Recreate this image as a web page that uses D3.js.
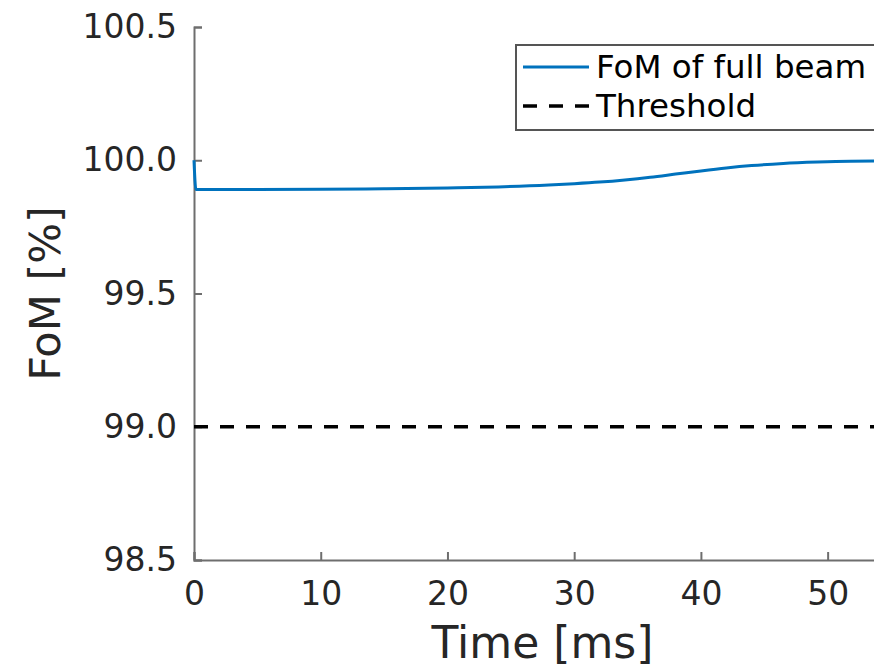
<!DOCTYPE html>
<html>
<head>
<meta charset="utf-8">
<script src="https://cdn.jsdelivr.net/npm/d3@7"></script>
<style>
  html, body { margin: 0; padding: 0; background: #fff; }
  svg { display: block; font-family: "DejaVu Sans", sans-serif; }
</style>
</head>
<body>
<svg id="chart" width="874" height="670"></svg>
<script>
// Figure of merit of the full beam over time (ms, %)
const timeMs = [0, 0.15, 2, 5, 10, 15, 20, 24, 28, 30, 32, 34, 36, 38, 40, 42, 44, 46.5, 49.2, 51.8, 55];
const fomFull = [100.0, 99.89, 99.890, 99.890, 99.891, 99.893, 99.896, 99.900, 99.907, 99.912, 99.918, 99.926, 99.936, 99.948, 99.960, 99.971, 99.980, 99.988, 99.993, 99.996, 99.997];
const thresholdValue = 99.0;
const xTicks = [0, 10, 20, 30, 40, 50];
const yTicks = [98.5, 99.0, 99.5, 100.0, 100.5];
const xDomain = [0, 55];
const yDomain = [98.5, 100.5];
const legendLabels = ["FoM of full beam", "Threshold"];

const svg = d3.select("#chart");
const margin = { left: 194, top: 27, bottom: 560 };
const plotRight = 891;

const x = d3.scaleLinear().domain(xDomain).range([margin.left, plotRight]);
const y = d3.scaleLinear().domain(yDomain).range([margin.bottom, margin.top]);

const textColor = "#262626";
const axisColor = "#6e6e6e";
const blue = "#0072BD";

// axes (ticks pointing inward)
const xAxis = d3.axisBottom(x).tickValues(xTicks).tickSize(-8).tickPadding(22)
  .tickFormat(d3.format("d"));
const yAxis = d3.axisLeft(y).tickValues(yTicks).tickSize(-8).tickPadding(17)
  .tickFormat(d3.format(".1f"));

const gx = svg.append("g").attr("transform", `translate(0,${margin.bottom})`).call(xAxis);
const gy = svg.append("g").attr("transform", `translate(${margin.left},0)`).call(yAxis);

[gx, gy].forEach(g => {
  g.select(".domain").attr("stroke", axisColor).attr("stroke-width", 2);
  g.selectAll(".tick line").attr("stroke", axisColor).attr("stroke-width", 2);
  g.selectAll(".tick text").attr("fill", textColor).style("font-size", "33px")
    .style("font-family", "DejaVu Sans, sans-serif");
});

// threshold line
svg.append("line")
  .attr("x1", x(0)).attr("x2", plotRight)
  .attr("y1", y(thresholdValue)).attr("y2", y(thresholdValue))
  .attr("stroke", "#000").attr("stroke-width", 3.5)
  .attr("stroke-dasharray", "14,12");

// FoM curve
const line = d3.line()
  .x((d, i) => x(timeMs[i]))
  .y(d => y(d))
  .curve(d3.curveMonotoneX);
svg.append("path")
  .datum(fomFull)
  .attr("d", line)
  .attr("fill", "none")
  .attr("stroke", blue)
  .attr("stroke-width", 3)
  .attr("stroke-linejoin", "round");

// axis labels
svg.append("text")
  .attr("x", (x(xDomain[0]) + x(xDomain[1])) / 2)
  .attr("y", 658)
  .attr("text-anchor", "middle")
  .attr("fill", textColor)
  .style("font-size", "44px")
  .text("Time [ms]");

svg.append("text")
  .attr("transform", `translate(60,${(margin.top + margin.bottom) / 2}) rotate(-90)`)
  .attr("text-anchor", "middle")
  .attr("fill", textColor)
  .style("font-size", "43px")
  .text("FoM [%]");

// legend
const legend = svg.append("g");
legend.append("rect")
  .attr("x", 516).attr("y", 45).attr("width", 420).attr("height", 85)
  .attr("fill", "#fff").attr("stroke", "#555").attr("stroke-width", 2);

legend.append("line")
  .attr("x1", 523).attr("x2", 589).attr("y1", 67).attr("y2", 67)
  .attr("stroke", blue).attr("stroke-width", 3);
legend.append("line")
  .attr("x1", 523).attr("x2", 589).attr("y1", 106).attr("y2", 106)
  .attr("stroke", "#000").attr("stroke-width", 3.5).attr("stroke-dasharray", "14,12");

legend.selectAll("text.lbl")
  .data(legendLabels)
  .join("text")
  .attr("class", "lbl")
  .attr("x", 596)
  .attr("y", (d, i) => 67 + i * 39)
  .attr("dy", "0.35em")
  .attr("fill", "#000")
  .style("font-size", "32.5px")
  .text(d => d);
</script>
</body>
</html>
